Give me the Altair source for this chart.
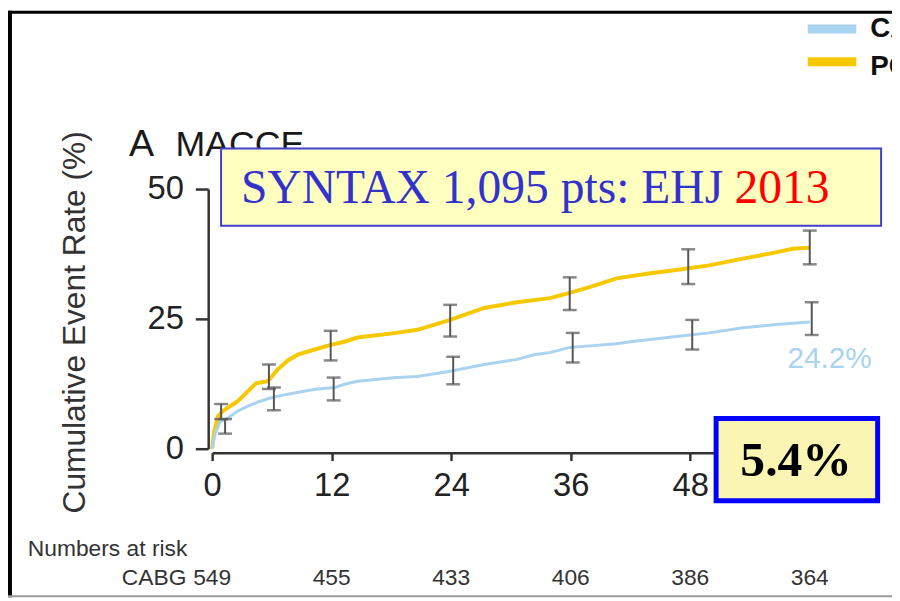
import altair as alt
import pandas as pd

# ---------------- data ----------------
series_names = ["CABG", "PCI"]
series_colors = ["#A9D3EE", "#F5C800"]

pci_months = [0, 0.2, 0.6, 1.1, 2.6, 3.6, 4.4, 5.6, 6.6, 7.6, 8.6, 10.3, 11.9, 13.3, 14.6, 18.5, 20.6,
              23.9, 27.3, 30.6, 33.9, 35.9, 37.9, 40.6, 44.0, 46.6, 49.9, 53.3, 56.6, 58.3, 60.0]
pci_rate = [0, 3.2, 6.3, 7.3, 9.2, 11.1, 12.6, 13.0, 15.3, 17.0, 18.1, 19.1, 20.0, 20.6, 21.4, 22.3, 22.9,
            24.8, 27.1, 28.2, 29.0, 30.0, 31.1, 32.8, 33.8, 34.4, 35.3, 36.6, 37.8, 38.5, 38.7]
cabg_months = [0, 0.3, 0.8, 1.6, 2.6, 3.6, 4.6, 6.1, 7.6, 9.3, 10.6, 12.3, 13.3, 14.6, 18.5, 20.6, 23.9,
               27.3, 30.6, 32.3, 33.9, 35.9, 37.9, 40.6, 42.0, 46.6, 49.9, 53.3, 56.6, 60.0]
cabg_rate = [0, 2.9, 5.2, 5.9, 7.3, 8.2, 9.0, 9.9, 10.5, 11.1, 11.5, 11.8, 12.4, 13.0, 13.7, 13.9, 14.9,
             16.2, 17.2, 18.1, 18.5, 19.5, 19.8, 20.2, 20.6, 21.6, 22.3, 23.3, 23.9, 24.4]

pci_err_months = [0.9, 5.7, 11.9, 23.9, 35.9, 47.8, 60.0]
pci_err_lo = [5.7, 11.5, 17.0, 21.6, 26.7, 31.7, 35.5]
pci_err_hi = [8.6, 16.2, 22.7, 27.7, 33.0, 38.4, 42.0]
cabg_err_months = [1.3, 6.2, 12.2, 24.2, 36.2, 48.2, 60.2]
cabg_err_lo = [2.9, 7.4, 9.3, 12.4, 16.6, 19.1, 21.9]
cabg_err_hi = [5.7, 11.8, 13.7, 17.7, 22.3, 24.8, 28.2]

x_ticks = [0, 12, 24, 36, 48, 60]
y_ticks = [0, 25, 50]
risk_months = [0, 12, 24, 36, 48, 60]
risk_cabg = [549, 455, 433, 406, 386, 364]

final_label = "24.2%"
final_month = 60
final_value = 24.2
box_title_blue = "SYNTAX 1,095 pts: EHJ"
box_title_red = "2013"
diff_label = "5.4%"

# ---------------- tables ----------------
curves = pd.concat([
    pd.DataFrame({"series": "PCI", "month": pci_months, "rate": pci_rate}),
    pd.DataFrame({"series": "CABG", "month": cabg_months, "rate": cabg_rate}),
])
errs = pd.concat([
    pd.DataFrame({"series": "PCI", "month": pci_err_months, "lo": pci_err_lo, "hi": pci_err_hi}),
    pd.DataFrame({"series": "CABG", "month": cabg_err_months, "lo": cabg_err_lo, "hi": cabg_err_hi}),
])
risk = pd.DataFrame({"month": risk_months, "n": [str(v) for v in risk_cabg]})
one = pd.DataFrame({"k": [0]})

SANS = "Liberation Sans"
SERIF = "Liberation Serif"

xscale = alt.Scale(domain=[0, 60], nice=False, zero=False)
yscale = alt.Scale(domain=[0, 50], nice=False)
cscale = alt.Scale(domain=series_names, range=series_colors)

X = alt.X("month:Q", scale=xscale, axis=alt.Axis(
    values=x_ticks, title=None, grid=False, offset=4, tickSize=8, tickWidth=2.5,
    domainWidth=2.5, domainColor="#333", tickColor="#333", labelFontSize=33,
    labelColor="#222", labelFont=SANS, labelPadding=9, labelFlush=False))
Y = alt.Y("rate:Q", scale=yscale, axis=alt.Axis(
    values=y_ticks, title="Cumulative Event Rate (%)", grid=False, offset=4, tickSize=13,
    tickWidth=2.5, domainWidth=2.5, domainColor="#333", tickColor="#333", labelFontSize=33,
    labelColor="#222", labelFont=SANS, labelPadding=12, titleFont=SANS, titleFontSize=32,
    titleFontWeight="normal", titleColor="#333", titleAngle=270, titleX=-135, titleY=134,
    titleAlign="center", titleBaseline="middle"))

# frame (black border of the slide)
frame_top = alt.Chart(one).mark_rect(color="black").encode(
    x=alt.value(-206), x2=alt.value(690), y=alt.value(-180), y2=alt.value(-177))
frame_left = alt.Chart(one).mark_rect(color="black").encode(
    x=alt.value(-206), x2=alt.value(-202), y=alt.value(-180), y2=alt.value(412))
frame_bottom = alt.Chart(one).mark_rect(color="#9a9a9a").encode(
    x=alt.value(-206), x2=alt.value(690), y=alt.value(410), y2=alt.value(412))

# hand-placed legend (its labels run off the slide edge as in the reference)
leg_sym_1 = alt.Chart(one).mark_rule(color=series_colors[0], strokeWidth=9).encode(
    x=alt.value(601), x2=alt.value(650), y=alt.value(-161.5))
leg_sym_2 = alt.Chart(one).mark_rule(color=series_colors[1], strokeWidth=9).encode(
    x=alt.value(601), x2=alt.value(650), y=alt.value(-128.5))
leg_lab_1 = alt.Chart(one).mark_text(text=series_names[0], font=SANS, fontSize=28, fontWeight="bold",
                                     color="#111", align="left", baseline="alphabetic").encode(
    x=alt.value(664), y=alt.value(-153))
leg_lab_2 = alt.Chart(one).mark_text(text=series_names[1], font=SANS, fontSize=28, fontWeight="bold",
                                     color="#111", align="left", baseline="alphabetic").encode(
    x=alt.value(664), y=alt.value(-115))

panel_a = alt.Chart(one).mark_text(text="A", font=SANS, fontSize=38, color="#1a1a1a",
                                   align="left", baseline="alphabetic").encode(
    x=alt.value(-84), y=alt.value(-33))
panel_name = alt.Chart(one).mark_text(text="MACCE", font=SANS, fontSize=36, color="#1a1a1a",
                                      align="left", baseline="alphabetic").encode(
    x=alt.value(-37), y=alt.value(-33))

lines = alt.Chart(curves).mark_line(interpolate="linear").encode(
    x=X, y=Y,
    color=alt.Color("series:N", scale=cscale, legend=None),
    size=alt.Size("series:N", scale=alt.Scale(domain=series_names, range=[3, 4]), legend=None),
)

err_rule = alt.Chart(errs).mark_rule(color="#555", strokeWidth=2).encode(
    x=alt.X("month:Q", scale=xscale), y=alt.Y("lo:Q", scale=yscale), y2="hi:Q")
err_lo = alt.Chart(errs).mark_tick(color="#555", orient="horizontal", size=14, thickness=2.5).encode(
    x=alt.X("month:Q", scale=xscale), y=alt.Y("lo:Q", scale=yscale))
err_hi = alt.Chart(errs).mark_tick(color="#555", orient="horizontal", size=14, thickness=2.5).encode(
    x=alt.X("month:Q", scale=xscale), y=alt.Y("hi:Q", scale=yscale))

end_label = alt.Chart(pd.DataFrame({"month": [final_month], "rate": [final_value], "t": [final_label]})).mark_text(
    font=SANS, fontSize=30, color="#A9D3EE", align="center", baseline="alphabetic", dx=20, dy=45).encode(
    x=alt.X("month:Q", scale=xscale), y=alt.Y("rate:Q", scale=yscale), text="t:N")

risk_head = alt.Chart(one).mark_text(text="Numbers at risk", font=SANS, fontSize=23, color="#333",
                                     align="left", baseline="alphabetic").encode(
    x=alt.value(-186), y=alt.value(370))
risk_name = alt.Chart(one).mark_text(text="CABG", font=SANS, fontSize=23, color="#333",
                                     align="right", baseline="alphabetic").encode(
    x=alt.value(-26), y=alt.value(400))
risk_nums = alt.Chart(risk).mark_text(font=SANS, fontSize=23, color="#333",
                                      align="center", baseline="alphabetic").encode(
    x=alt.X("month:Q", scale=xscale), y=alt.value(400), text="n:N")

title_box = alt.Chart(one).mark_rect(fill="#FFFFC0", stroke="#4040CC", strokeWidth=2).encode(
    x=alt.value(9), x2=alt.value(675), y=alt.value(-41), y2=alt.value(37))
title_blue = alt.Chart(one).mark_text(text=box_title_blue, font=SERIF, fontSize=48, color="#3333CC",
                                      align="left", baseline="alphabetic").encode(
    x=alt.value(29), y=alt.value(14))
title_red = alt.Chart(one).mark_text(text=box_title_red, font=SERIF, fontSize=48, color="#FF0000",
                                     align="left", baseline="alphabetic").encode(
    x=alt.value(527), y=alt.value(14))

diff_box = alt.Chart(one).mark_rect(fill="#FAF5B2", stroke="#0000FF", strokeWidth=5).encode(
    x=alt.value(508.5), x2=alt.value(671.5), y=alt.value(231.5), y2=alt.value(314.5))
diff_text = alt.Chart(one).mark_text(text=diff_label, font=SERIF, fontSize=50, fontWeight="bold",
                                     color="black", align="left", baseline="alphabetic").encode(
    x=alt.value(533), y=alt.value(290))

chart = alt.layer(
    frame_top, frame_left, frame_bottom,
    leg_sym_1, leg_sym_2, leg_lab_1, leg_lab_2,
    panel_a, panel_name,
    lines, err_rule, err_lo, err_hi, end_label,
    risk_head, risk_name, risk_nums,
    title_box, title_blue, title_red, diff_box, diff_text,
).resolve_scale(x="shared", y="shared").properties(
    width=603, height=262, autosize="none",
    padding={"left": 206, "top": 180, "right": 83, "bottom": 151},
    background="white",
).configure_view(stroke=None)

chart.save("out.html", embed_options={"renderer": "svg", "actions": False})
